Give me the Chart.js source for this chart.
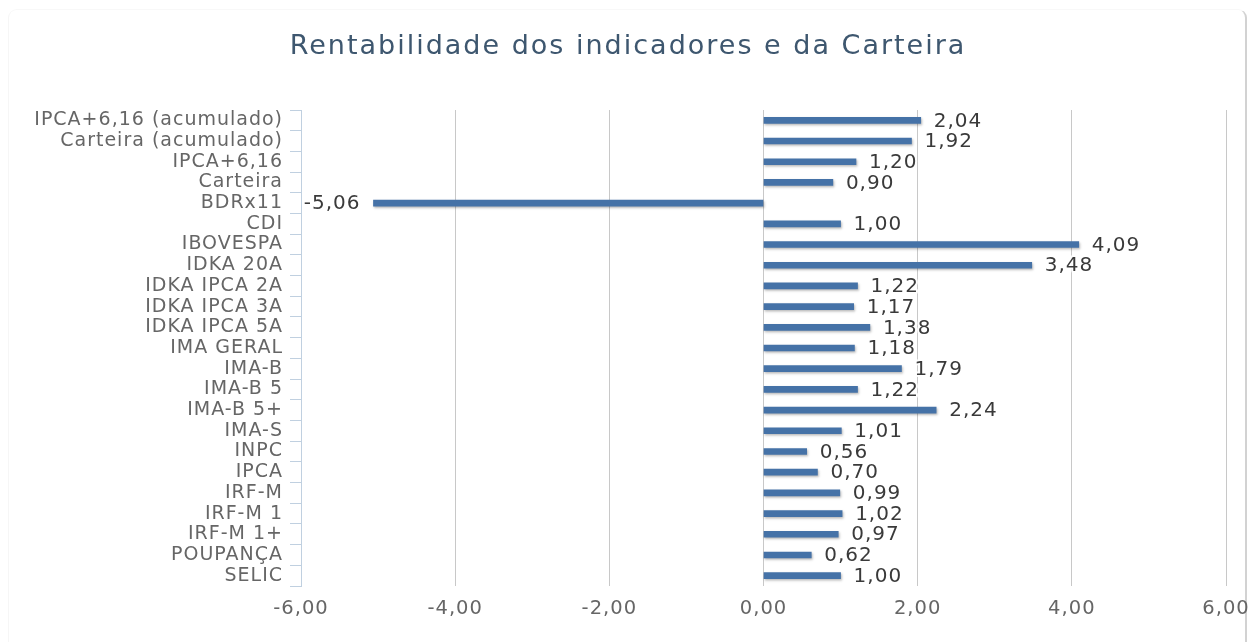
<!DOCTYPE html>
<html>
<head>
<meta charset="utf-8">
<script src="https://cdn.jsdelivr.net/npm/chart.js@4.4.1/dist/chart.umd.min.js"></script>
<style>
  html, body { margin: 0; padding: 0; background: #ffffff; overflow: hidden; }
  #card {
    position: absolute; left: 8px; top: 9px; width: 1236px; height: 660px;
    border-radius: 9px; border: 1px solid #f6f6f6; border-right: 2px solid #d2d2d2;
    border-top-color: #f8f8f8;
    background: #fff;
  }
  #wrap { position: absolute; left: 0; top: 0; width: 1254px; height: 642px; }
</style>
</head>
<body>
<div id="card"></div>
<div id="wrap"><canvas id="c" width="1254" height="642"></canvas></div>
<script>
const categories = [
  "IPCA+6,16 (acumulado)", "Carteira (acumulado)", "IPCA+6,16", "Carteira", "BDRx11",
  "CDI", "IBOVESPA", "IDKA 20A", "IDKA IPCA 2A", "IDKA IPCA 3A", "IDKA IPCA 5A",
  "IMA GERAL", "IMA-B", "IMA-B 5", "IMA-B 5+", "IMA-S", "INPC", "IPCA",
  "IRF-M", "IRF-M 1", "IRF-M 1+", "POUPANÇA", "SELIC"
];
const rentabilidade = [
  2.04, 1.92, 1.20, 0.90, -5.06,
  1.00, 4.09, 3.48, 1.22, 1.17, 1.38,
  1.18, 1.79, 1.22, 2.24, 1.01, 0.56, 0.70,
  0.99, 1.02, 0.97, 0.62, 1.00
];
const xTicks = [-6, -4, -2, 0, 2, 4, 6];
const titleText = "Rentabilidade dos indicadores e da Carteira";

const fmt = v => v.toFixed(2).replace('.', ',');

const FONT = "'DejaVu Sans', sans-serif";
const LS = '1px';

const spacingPlugin = {
  id: 'spacing',
  beforeUpdate(chart) { chart.ctx.letterSpacing = LS; },
  beforeDraw(chart) { chart.ctx.letterSpacing = LS; }
};

const titlePlugin = {
  id: 'customTitle',
  afterDraw(chart) {
    const ctx = chart.ctx;
    ctx.save();
    ctx.letterSpacing = '2px';
    ctx.font = "27px " + FONT;
    ctx.fillStyle = '#3E576F';
    ctx.textAlign = 'center';
    ctx.textBaseline = 'middle';
    ctx.fillText(titleText, 628, 47);
    ctx.restore();
  }
};

const shadowPlugin = {
  id: 'barShadow',
  beforeDatasetsDraw(chart) {
    const ctx = chart.ctx;
    ctx.save();
    ctx.shadowColor = 'rgba(0,0,0,0.28)';
    ctx.shadowOffsetX = 1;
    ctx.shadowOffsetY = 1.5;
    ctx.shadowBlur = 2.5;
  },
  afterDatasetsDraw(chart) {
    chart.ctx.restore();
  }
};

const labelPlugin = {
  id: 'valueLabels',
  afterDatasetsDraw(chart) {
    const ctx = chart.ctx;
    const meta = chart.getDatasetMeta(0);
    const data = chart.data.datasets[0].data;
    ctx.save();
    ctx.letterSpacing = LS;
    ctx.font = "20px " + FONT;
    ctx.textBaseline = 'middle';
    ctx.lineJoin = 'round';
    meta.data.forEach((el, i) => {
      const v = data[i];
      const txt = fmt(v);
      let x, align;
      if (v >= 0) { x = el.x + 13; align = 'left'; }
      else { x = el.x - 13; align = 'right'; }
      ctx.textAlign = align;
      ctx.strokeStyle = 'rgba(255,255,255,0.9)';
      ctx.lineWidth = 4;
      ctx.strokeText(txt, x, el.y + 1);
      ctx.fillStyle = '#3a3a3a';
      ctx.fillText(txt, x, el.y + 1);
    });
    ctx.restore();
  }
};

new Chart(document.getElementById('c'), {
  type: 'bar',
  data: {
    labels: categories,
    datasets: [{
      data: rentabilidade,
      backgroundColor: '#4572A7',
      borderWidth: 0,
      barThickness: 6
    }]
  },
  plugins: [spacingPlugin, shadowPlugin, labelPlugin, titlePlugin],
  options: {
    indexAxis: 'y',
    responsive: false,
    animation: false,
    layout: { padding: { top: 110, left: 0, right: 28, bottom: 0 } },
    plugins: {
      legend: { display: false },
      tooltip: { enabled: false },
      title: { display: false }
    },
    scales: {
      x: {
        type: 'linear',
        min: -6, max: 6,
        afterBuildTicks(scale) { scale.ticks = xTicks.map(v => ({ value: v })); },
        afterFit(scale) {
          scale.height = 56;
          scale.paddingLeft = 0;
          scale.paddingRight = 0;
        },
        grid: {
          color: ctx => (ctx.tick && ctx.tick.value === -6) ? 'rgba(0,0,0,0)' : '#c8c8c8',
          lineWidth: 1,
          drawTicks: false
        },
        border: { display: false },
        ticks: {
          color: '#666666',
          padding: 11,
          font: { family: FONT, size: 19.5 },
          callback: v => fmt(v)
        }
      },
      y: {
        afterFit(scale) { scale.width = 301; },
        grid: {
          offset: true,
          drawOnChartArea: false,
          drawTicks: true,
          tickLength: 11,
          color: '#C0D0E0',
          lineWidth: 1
        },
        border: { display: true, color: '#C0D0E0', width: 1 },
        ticks: {
          color: '#666666',
          padding: 7,
          autoSkip: false,
          font: { family: FONT, size: 19, lineHeight: 1 }
        }
      }
    }
  }
});
</script>
</body>
</html>
